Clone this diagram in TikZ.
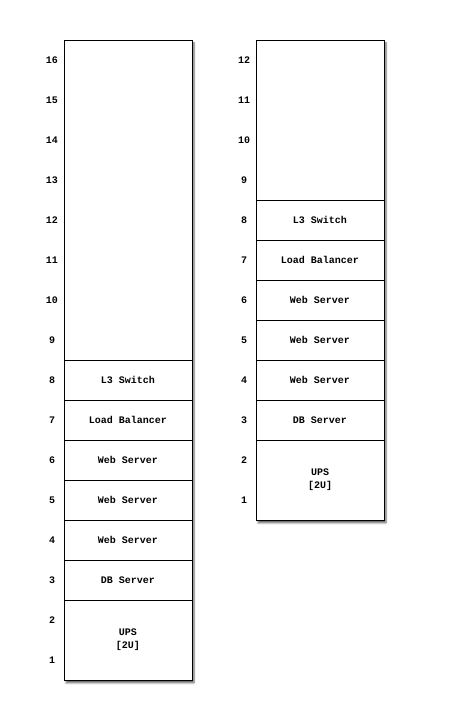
\documentclass[tikz,border=0pt]{standalone}
\usepackage{fontspec}
\setmonofont{Liberation Mono}
\usetikzlibrary{shapes, positioning, shadows.blur}

\begin{document}
\begin{tikzpicture}[x=1pt, y=1pt, font=\ttfamily\bfseries\fontsize{10}{13}\selectfont]
    \tikzstyle{rack} = [draw, line width=0.8pt, fill=white, minimum width=128pt,
	inner sep=0pt, outer sep=0pt, anchor=south west,
	blur shadow={shadow xshift=2pt, shadow yshift=-3pt, shadow blur steps=6, shadow opacity=60}]
    \tikzstyle{unit} = [draw, line width=0.8pt, minimum width=128pt, minimum height=40pt,
	inner sep=0pt, outer sep=0pt, anchor=south west, align=center]
    \tikzstyle{num} = [inner sep=0pt]

	\useasboundingbox (0,0) rectangle (448,720);

	% left rack, 16U
	\begin{scope}
		\node[rack, minimum height=640pt] (rackA) at (64,40) {};
		\foreach \u in {1,...,16}
			\node[num] (numA\u) at (52,20+40*\u) {\u};
		\path
			node[unit, minimum height=80pt] (upsA) at (rackA.south west) {UPS\\{[2U]}}
			node[unit] (dbA) at (upsA.north west) {DB Server}
			node[unit] (webA1) at (dbA.north west) {Web Server}
			node[unit] (webA2) at (webA1.north west) {Web Server}
			node[unit] (webA3) at (webA2.north west) {Web Server}
			node[unit] (lbA) at (webA3.north west) {Load Balancer}
			node[unit] (swA) at (lbA.north west) {L3 Switch}
		;
	\end{scope}

	% right rack, 12U
	\begin{scope}
		\node[rack, minimum height=480pt] (rackB) at (256,200) {};
		\foreach \u in {1,...,12}
			\node[num] (numB\u) at (244,180+40*\u) {\u};
		\path
			node[unit, minimum height=80pt] (upsB) at (rackB.south west) {UPS\\{[2U]}}
			node[unit] (dbB) at (upsB.north west) {DB Server}
			node[unit] (webB1) at (dbB.north west) {Web Server}
			node[unit] (webB2) at (webB1.north west) {Web Server}
			node[unit] (webB3) at (webB2.north west) {Web Server}
			node[unit] (lbB) at (webB3.north west) {Load Balancer}
			node[unit] (swB) at (lbB.north west) {L3 Switch}
		;
	\end{scope}
\end{tikzpicture}
\end{document}
